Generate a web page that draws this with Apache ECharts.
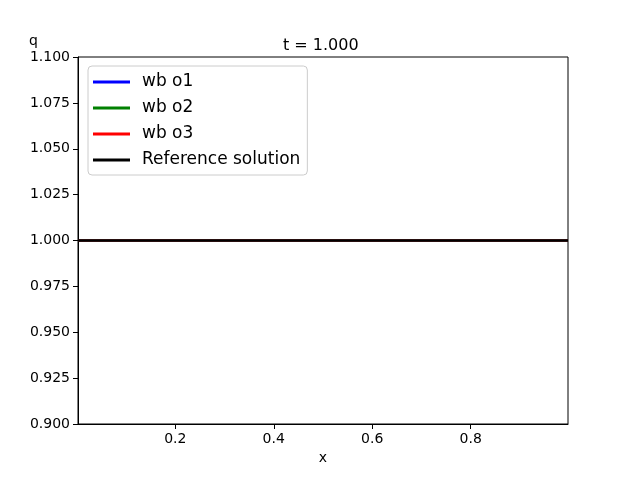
<!DOCTYPE html>
<html>
<head>
<meta charset="utf-8">
<script src="https://cdn.jsdelivr.net/npm/echarts@6/dist/echarts.min.js"></script>
<style>
  html, body { margin: 0; padding: 0; background: #fff; }
  #chart { width: 631px; height: 477px; }
</style>
</head>
<body>
<div id="chart"></div>
<script>
  // values
  var xs = [0.0025, 0.25, 0.5, 0.75, 0.9975];
  var qO1 = [1.0, 1.0, 1.0, 1.0, 1.0];
  var qO2 = [1.0, 1.0, 1.0, 1.0, 1.0];
  var qO3 = [1.0, 1.0, 1.0, 1.0, 1.0];
  var qRef = [1.0, 1.0, 1.0, 1.0, 1.0];
  var xTicks = [0.2, 0.4, 0.6, 0.8];
  var seriesNames = ['wb o1', 'wb o2', 'wb o3', 'Reference solution'];
  var seriesColors = ['#0000ff', '#008000', '#ff0000', '#000000'];

  var font = 'DejaVu Sans';

  function pairs(ys) {
    return xs.map(function (x, i) { return [x, ys[i]]; });
  }

  var allValues = [qO1, qO2, qO3, qRef];
  var series = allValues.map(function (ys, i) {
    return {
      name: seriesNames[i],
      type: 'line',
      data: pairs(ys),
      showSymbol: false,
      color: seriesColors[i],
      lineStyle: { width: i === 3 ? 2.6 : 2, color: seriesColors[i] },
      z: 2 + i
    };
  });

  var chart = echarts.init(document.getElementById('chart'));
  chart.setOption({
    animation: false,
    backgroundColor: '#fff',
    title: {
      text: 't = 1.000',
      left: 278,
      top: 33,
      textStyle: { fontFamily: font, fontSize: 16, fontWeight: 'normal', color: '#000' }
    },
    grid: {
      left: 78, right: 63, top: 57, bottom: 53,
      show: true, borderColor: '#000', borderWidth: 1, backgroundColor: 'transparent'
    },
    legend: {
      orient: 'vertical',
      left: 88,
      top: 66,
      icon: 'rect',
      itemWidth: 37,
      itemHeight: 3,
      itemGap: 6,
      padding: [6, 7, 5, 5],
      borderColor: '#cccccc',
      borderWidth: 1,
      borderRadius: 4,
      backgroundColor: 'rgba(255,255,255,0.8)',
      textStyle: { fontFamily: font, fontSize: 17, color: '#000', lineHeight: 20, padding: [0, 0, 0, 7] },
      data: seriesNames
    },
    xAxis: {
      type: 'value',
      min: xs[0],
      max: xs[xs.length - 1],
      name: 'x',
      nameLocation: 'middle',
      nameGap: 26,
      nameTextStyle: { fontFamily: font, fontSize: 14, color: '#000' },
      splitLine: { show: false },
      axisLine: { show: true, onZero: false, lineStyle: { color: '#000', width: 1 } },
      axisTick: { show: true, length: 5, customValues: xTicks, lineStyle: { color: '#000' } },
      axisLabel: {
        customValues: xTicks,
        color: '#000', fontFamily: font, fontSize: 14, margin: 8,
        formatter: function (v) { return v.toFixed(1); }
      }
    },
    yAxis: {
      type: 'value',
      min: 0.9,
      max: 1.1,
      interval: 0.025,
      name: 'q',
      nameLocation: 'end',
      nameGap: 9,
      nameTextStyle: { fontFamily: font, fontSize: 14, color: '#000', align: 'right', padding: [0, 40, 0, 0] },
      splitLine: { show: false },
      axisLine: { show: true, onZero: false, lineStyle: { color: '#000', width: 1 } },
      axisTick: { show: true, length: 5, lineStyle: { color: '#000' } },
      axisLabel: {
        color: '#000', fontFamily: font, fontSize: 14, margin: 8,
        formatter: function (v) { return v.toFixed(3); }
      }
    },
    series: series
  });
</script>
</body>
</html>
